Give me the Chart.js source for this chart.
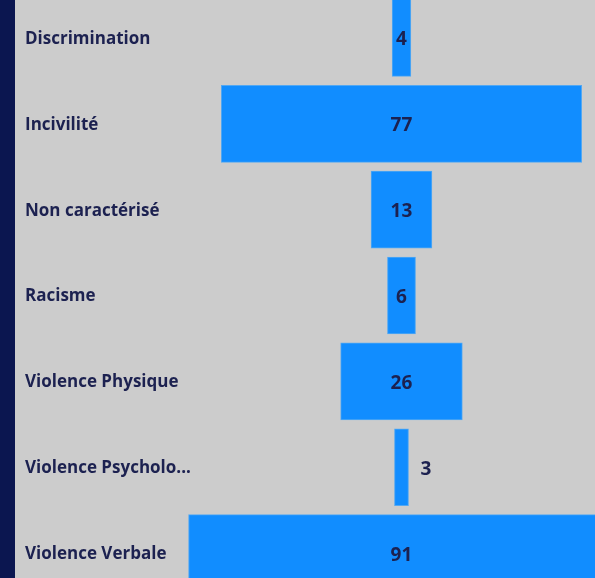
<!DOCTYPE html>
<html lang="fr">
<head>
  <meta charset="UTF-8" />
  <title>Signalements par catégorie</title>
  <style>
    html, body { margin: 0; padding: 0; background: #cccccc; overflow: hidden; }
    #strip { position: absolute; left: 0; top: 0; width: 15px; height: 578px; background: #0b1650; }
    #wrap { position: absolute; left: 0; top: 0; width: 595px; height: 578px; }
  </style>
</head>
<body>
<div id="strip"></div>
<div id="wrap"><canvas id="funnel"></canvas></div>

<script src="https://cdn.jsdelivr.net/npm/chart.js"></script>
<script>
const categories = [
  "Discrimination",
  "Incivilité",
  "Non caractérisé",
  "Racisme",
  "Violence Physique",
  "Violence Psychologique",
  "Violence Verbale"
];
const counts = [4, 77, 13, 6, 26, 3, 91];

// entonnoir : chaque barre est centrée sur 0
const bars = counts.map((v, i) => ({ x: [-v / 2, v / 2], y: i }));

const labelFont = "700 17px 'Open Sans'";
const valueFont = "700 19px 'Open Sans'";
const textColor = "#1c2150";

function shorten(ctx, text, maxW) {
  if (ctx.measureText(text).width <= maxW) return text;
  let s = text;
  while (s.length > 1 && ctx.measureText(s + "...").width > maxW) s = s.slice(0, -1);
  return s + "...";
}

const funnelText = {
  id: "funnelText",
  afterDatasetsDraw(chart) {
    const ctx = chart.ctx;
    const yScale = chart.scales.y;
    const meta = chart.getDatasetMeta(0);
    ctx.save();
    ctx.fillStyle = textColor;
    ctx.textBaseline = "middle";

    // noms des catégories à gauche
    ctx.font = labelFont;
    ctx.textAlign = "left";
    categories.forEach((c, i) => {
      ctx.fillText(shorten(ctx, c, 170), 25, yScale.getPixelForValue(i) + 1);
    });

    // valeurs : dans la barre si elle est assez large, sinon à droite
    ctx.font = valueFont;
    meta.data.forEach((bar, i) => {
      const p = bar.getProps(["x", "base", "y"], true);
      const left = Math.min(p.x, p.base), right = Math.max(p.x, p.base);
      const txt = String(counts[i]);
      const w = ctx.measureText(txt).width;
      if (right - left >= w + 4) {
        ctx.textAlign = "center";
        ctx.fillText(txt, (left + right) / 2, p.y + 2);
      } else {
        ctx.textAlign = "left";
        ctx.fillText(txt, right + 12, p.y + 2);
      }
    });
    ctx.restore();
  }
};

new Chart(document.getElementById("funnel"), {
  type: "bar",
  data: {
    datasets: [{
      data: bars,
      backgroundColor: "#118dff",
      borderColor: "#52a8f2",
      borderWidth: 1,
      borderSkipped: false,
      barThickness: 77
    }]
  },
  options: {
    indexAxis: "y",
    responsive: true,
    maintainAspectRatio: false,
    animation: false,
    layout: { padding: 0 },
    plugins: { legend: { display: false }, tooltip: { enabled: false } },
    scales: {
      x: { type: "linear", min: -85.79, max: 41.35, display: false },
      y: { type: "linear", min: -0.442, max: 6.290, reverse: true, offset: false, display: false }
    }
  },
  plugins: [funnelText]
});
</script>
</body>
</html>
